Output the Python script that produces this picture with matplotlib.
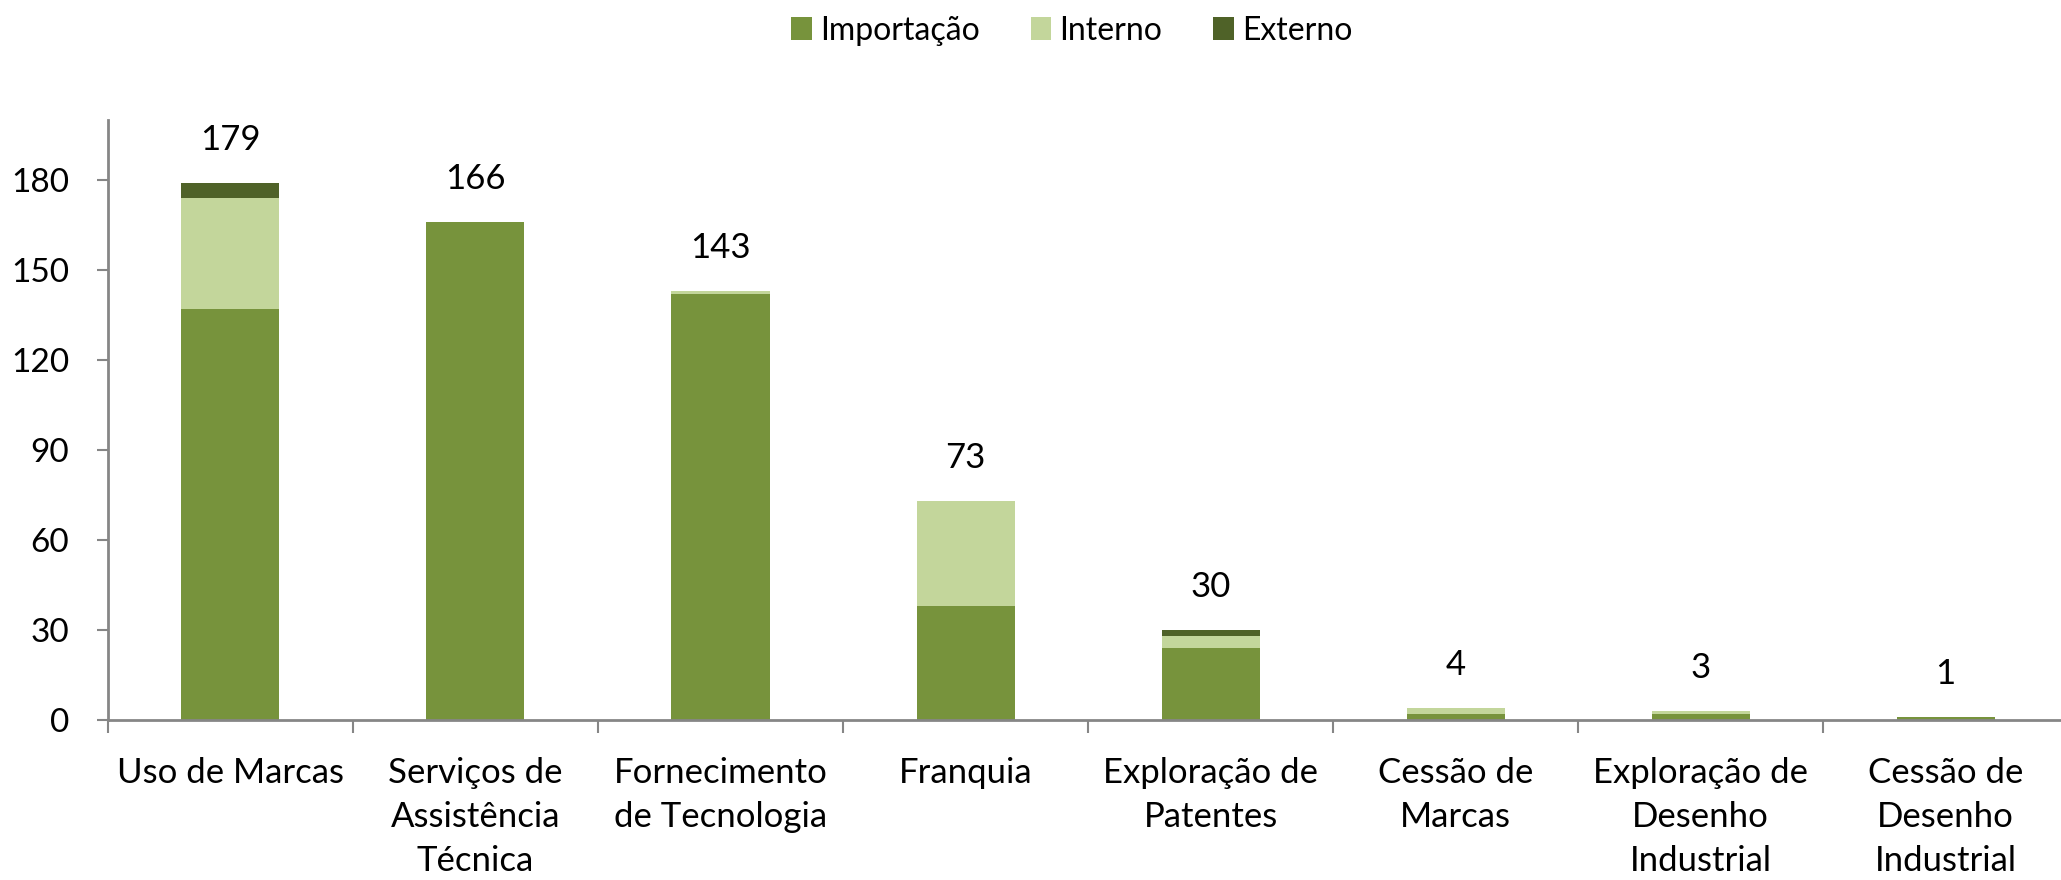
import matplotlib
matplotlib.use("Agg")
import matplotlib.pyplot as plt
import numpy as np

categories = ["Uso de Marcas", "Serviços de\nAssistência\nTécnica", "Fornecimento\nde Tecnologia",
              "Franquia", "Exploração de\nPatentes", "Cessão de\nMarcas",
              "Exploração de\nDesenho\nIndustrial", "Cessão de\nDesenho\nIndustrial"]
importacao = [137, 166, 142, 38, 24, 2, 2, 1]
interno = [37, 0, 1, 35, 4, 2, 1, 0]
externo = [5, 0, 0, 0, 2, 0, 0, 0]
series_names = ["Importação", "Interno", "Externo"]
colors = ["#77933C", "#C3D69B", "#4F6228"]
yticks = [0, 30, 60, 90, 120, 150, 180]

plt.rcParams['font.family'] = ['Lato', 'DejaVu Sans']

fig = plt.figure(figsize=(20.61, 8.8), dpi=100)
ax = fig.add_axes([0.0524, 0.182, 0.951, 0.682])

x = np.arange(len(categories))
w = 0.4
imp = np.array(importacao); inn = np.array(interno); ext = np.array(externo)
ax.bar(x, imp, w, color=colors[0], label=series_names[0], zorder=2)
ax.bar(x, inn, w, bottom=imp, color=colors[1], label=series_names[1], zorder=2)
ax.bar(x, ext, w, bottom=imp + inn, color=colors[2], label=series_names[2], zorder=2)

totals = imp + inn + ext
for xi, t in zip(x, totals):
    ax.annotate(str(t), (xi, t), xytext=(0, 31), textcoords="offset points",
                ha="center", va="center", fontsize=25, color="black")

ax.set_xlim(-0.5, len(categories) - 0.5)
ax.set_ylim(0, 200)
ax.set_yticks(yticks)
ax.tick_params(axis='y', labelsize=24, length=8, width=1.5, color="#868686", pad=20)
ax.set_xticks(x)
ax.set_xticklabels(categories, fontsize=25, linespacing=1.46)
ax.tick_params(axis='x', which='major', length=0, pad=27)
ax.set_xticks(np.arange(-0.5, len(categories)), minor=True)
ax.tick_params(axis='x', which='minor', length=9, width=1.5, color="#868686")

for s in ["top", "right"]:
    ax.spines[s].set_visible(False)
for s in ["left", "bottom"]:
    ax.spines[s].set_color("#868686")
    ax.spines[s].set_linewidth(2)

fig.legend(loc="center", bbox_to_anchor=(0.52, 0.965), ncol=3, frameon=False,
           fontsize=23, handlelength=0.65, handleheight=0.75, handletextpad=0.25,
           columnspacing=1.6)

fig.savefig("out.png", dpi=100)
